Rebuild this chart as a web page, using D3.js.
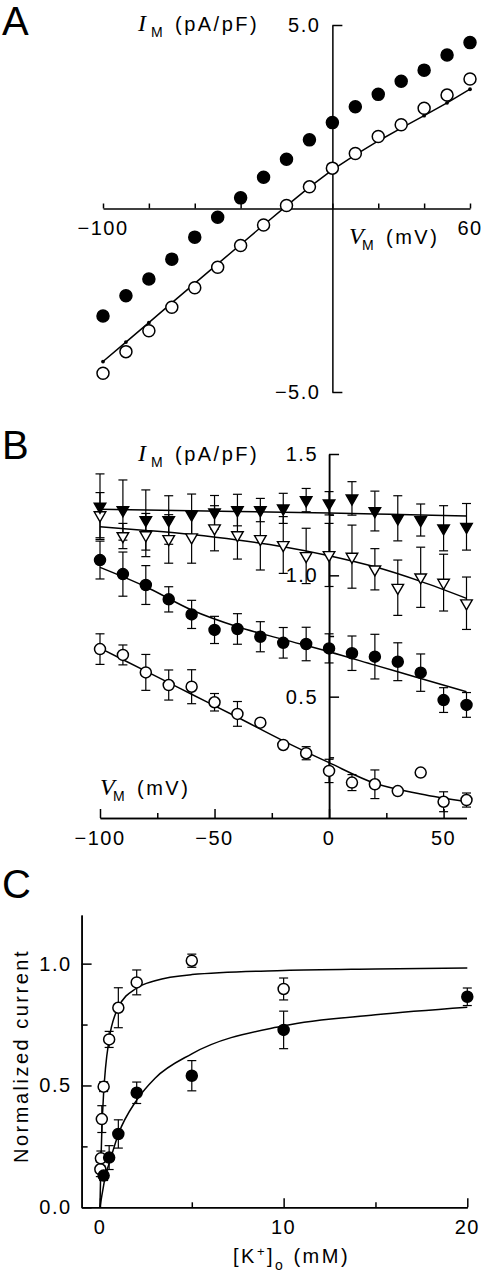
<!DOCTYPE html>
<html>
<head>
<meta charset="utf-8">
<script src="https://cdn.jsdelivr.net/npm/d3@7"></script>
<style>
  html, body { margin: 0; padding: 0; background: #fff; }
  svg { display: block; }
  text { font-family: "Liberation Sans", Arial, sans-serif; fill: #000; }
  .tick-lbl { font-size: 20px; letter-spacing: 1.5px; }
  .ax-lbl { font-size: 20px; letter-spacing: 2.5px; }
  .serif-it { font-family: "Liberation Serif", "Times New Roman", serif; font-style: italic; }
</style>
</head>
<body>
<script>
// ---------------- Panel A data ----------------
const aVolt = [-100,-90,-80,-70,-60,-50,-40,-30,-20,-10,0,10,20,30,40,50,60];
const aFilled = [-2.93,-2.38,-1.92,-1.38,-0.78,-0.24,0.29,0.85,1.34,1.87,2.34,2.77,3.11,3.47,3.77,4.18,4.52];
const aOpen = [-4.49,-3.90,-3.33,-2.69,-2.16,-1.60,-1.01,-0.45,0.08,0.59,1.10,1.50,1.96,2.28,2.73,3.09,3.53];
const aFit = [-4.17,-3.64,-3.11,-2.57,-2.04,-1.51,-0.98,-0.45,0.07,0.58,1.05,1.46,1.84,2.19,2.53,2.88,3.25];
const aXTicks = [-100,-80,-60,-40,-20,0,20,40,60];
const aXLabels = [-100,60];
const aYTicks = [-5,5];

// ---------------- Panel B data ----------------
const bVolt = [-100,-90,-80,-70,-60,-50,-40,-30,-20,-10,0,10,20,30,40,50,60];
const bFilledTri = [1.283,1.269,1.228,1.228,1.251,1.260,1.269,1.269,1.276,1.310,1.297,1.317,1.265,1.235,1.228,1.194,1.200];
const bFilledTriErr = [0.135,0.124,0.124,0.100,0.084,0.069,0.065,0.048,0.062,0.048,0.048,0.069,0.082,0.093,0.066,0.093,0.096];
const bOpenTri = [1.248,1.162,1.166,1.150,1.157,1.194,1.166,1.150,1.125,1.080,1.084,1.077,1.025,0.949,0.992,0.970,0.885];
const bOpenTriErr = [0.093,0.052,0.089,0.100,0.107,0.093,0.099,0.128,0.117,0.114,0.130,0.130,0.085,0.114,0.124,0.117,0.108];
const bFilledCirc = [1.063,1.005,0.960,0.901,0.839,0.775,0.779,0.747,0.722,0.717,0.699,0.679,0.665,0.644,0.599,0.486,0.466];
const bFilledCircErr = [0.078,0.091,0.080,0.052,0.058,0.056,0.063,0.062,0.063,0.069,0.060,0.071,0.092,0.078,0.077,0.051,0.051];
const bOpenCirc = [0.696,0.672,0.600,0.548,0.541,0.477,0.429,0.393,0.301,0.267,0.194,0.146,0.139,0.111,0.187,0.067,0.074];
const bOpenCircErr = [0.063,0.041,0.074,0.062,0.070,0.036,0.051,0,0,0.027,0.048,0.033,0.059,0,0,0.041,0.029];
const bFitVolt = [-100,-80,-60,-40,-20,0,20,40,60];
const bFitFilledTri = [1.272,1.269,1.266,1.263,1.260,1.257,1.253,1.249,1.244];
const bFitOpenTri = [1.200,1.185,1.168,1.146,1.118,1.081,1.035,0.975,0.905];
const bFitFilledCirc = [1.033,0.953,0.857,0.788,0.736,0.685,0.630,0.575,0.520];
const bFitOpenCirc = [0.700,0.605,0.510,0.415,0.318,0.228,0.143,0.099,0.067];
const bXMajor = [-100,-50,0,50];
const bXMinor = [-75,-25,25];
const bYMajor = [0.5,1.0,1.5];
const bYMinor = [0.25,0.75,1.25];

// ---------------- Panel C data ----------------
const cOpenK = [0.02,0.05,0.1,0.2,0.5,1,2,5,10];
const cOpen = [0.156,0.201,0.362,0.495,0.689,0.819,0.923,1.012,0.896];
const cOpenErr = [0.03,0.03,0.055,0.02,0.033,0.082,0.051,0.027,0.045];
const cFilledK = [0.2,0.5,1,2,5,10,20];
const cFilled = [0.130,0.204,0.301,0.470,0.540,0.728,0.864];
const cFilledErr = [0.02,0.049,0.058,0.044,0.062,0.077,0.036];
const cFitK = [0,0.05,0.1,0.2,0.3,0.5,1,2,3,5,10,15,20];
const cFitOpen = [0,0.18,0.31,0.47,0.57,0.69,0.82,0.90,0.93,0.955,0.972,0.978,0.982];
const cFitFilled = [0,0.024,0.047,0.09,0.13,0.18,0.30,0.44,0.53,0.63,0.745,0.79,0.821];
const cXMajor = [0,10,20];
const cXMinor = [5,15];
const cYMajor = [0,0.5,1.0];
const cYMinor = [0.25,0.75];

// ---------------- drawing ----------------
const W = 482, H = 1280;
const svg = d3.select("body").append("svg").attr("width", W).attr("height", H);
svg.append("rect").attr("width", W).attr("height", H).attr("fill", "#fff");

const fmt1 = v => d3.format(".1f")(v).replace("-", "\u2212");
const fmt0 = v => d3.format("d")(v).replace("-", "\u2212");
const LW = 1.5;

function line(g, x1, y1, x2, y2, w) {
  g.append("line").attr("x1", x1).attr("y1", y1).attr("x2", x2).attr("y2", y2)
    .attr("stroke", "#000").attr("stroke-width", w || LW);
}
function errBars(g, xs, ys, es, x, y, cap) {
  xs.forEach((xv, i) => {
    const e = es[i];
    if (!e) return;
    const px = x(xv), y1 = y(ys[i] - e), y2 = y(ys[i] + e);
    line(g, px, y1, px, y2, 1.2);
    line(g, px - cap, y1, px + cap, y1, 1.2);
    line(g, px - cap, y2, px + cap, y2, 1.2);
  });
}
function circles(g, xs, ys, x, y, r, filled) {
  g.selectAll(null).data(xs.map((xv, i) => [xv, ys[i]])).join("circle")
    .attr("cx", d => x(d[0])).attr("cy", d => y(d[1])).attr("r", r)
    .attr("fill", filled ? "#000" : "#fff").attr("stroke", "#000").attr("stroke-width", 1.5);
}
function triangles(g, xs, ys, x, y, size, filled) {
  const sym = d3.symbol().type(d3.symbolTriangle).size(size);
  g.selectAll(null).data(xs.map((xv, i) => [xv, ys[i]])).join("path")
    .attr("d", sym)
    .attr("transform", d => `translate(${x(d[0])},${y(d[1])}) rotate(180)`)
    .attr("fill", filled ? "#000" : "#fff").attr("stroke", "#000").attr("stroke-width", 1.4);
}
function fitLine(g, xs, ys, x, y, curve) {
  const gen = d3.line().x(d => x(d[0])).y(d => y(d[1])).curve(curve || d3.curveMonotoneX);
  g.append("path").attr("d", gen(xs.map((xv, i) => [xv, ys[i]])))
    .attr("fill", "none").attr("stroke", "#000").attr("stroke-width", 1.5);
}
function styleAxis(sel) {
  sel.selectAll("path.domain").attr("stroke", "#000").attr("stroke-width", LW);
  sel.selectAll(".tick line").attr("stroke", "#000").attr("stroke-width", LW);
  sel.selectAll(".tick text").remove();
}
function panelLetter(txt, x, y) {
  svg.append("text").attr("x", x).attr("y", y).attr("font-size", 40).text(txt);
}
function axisTitle(g, letter, x, y, rest) {
  g.append("text").attr("class", "serif-it").attr("x", x).attr("y", y).attr("font-size", 24).text(letter);
  g.append("text").attr("x", x + 13).attr("y", y + 6).attr("font-size", 14).text("M");
  g.append("text").attr("class", "ax-lbl").attr("x", x + 37).attr("y", y).text(rest);
}

// ===== Panel A =====
{
  const g = svg.append("g");
  const x = d3.scaleLinear().domain([-100, 60]).range([103, 470]);
  const y = d3.scaleLinear().domain([-5, 5]).range([392, 25]);
  const gx = g.append("g").attr("transform", `translate(0,${y(0)})`)
    .call(d3.axisTop(x).tickValues(aXTicks).tickSize(5).tickSizeOuter(0).tickFormat(""));
  styleAxis(gx);
  const gy = g.append("g").attr("transform", `translate(${x(0)},0)`)
    .call(d3.axisRight(y).tickValues(aYTicks).tickSize(10).tickSizeOuter(0).tickFormat(""));
  styleAxis(gy);
  aXLabels.forEach(v => g.append("text").attr("class", "tick-lbl").attr("x", x(v)).attr("y", y(0) + 26)
    .attr("text-anchor", "middle").text(fmt0(v)));
  aYTicks.forEach(v => g.append("text").attr("class", "tick-lbl").attr("x", x(0) - 12).attr("y", y(v) + 7)
    .attr("text-anchor", "end").text(fmt1(v)));
  fitLine(g, aVolt, aFit, x, y, d3.curveLinear);
  g.selectAll(null).data(aVolt.map((v, i) => [v, aFit[i]])).join("circle")
    .attr("cx", d => x(d[0])).attr("cy", d => y(d[1])).attr("r", 1.9).attr("fill", "#000");
  circles(g, aVolt, aOpen, x, y, 6, false);
  circles(g, aVolt, aFilled, x, y, 6, true);
  axisTitle(g, "I", 138, 31, "(pA/pF)");
  axisTitle(g, "V", 349, 244, "(mV)");
  panelLetter("A", 2, 35);
}

// ===== Panel B =====
{
  const g = svg.append("g");
  const x = d3.scaleLinear().domain([-100, 60]).range([100, 466.5]);
  const y = d3.scaleLinear().domain([0, 1.5]).range([818, 454]);
  const gx = g.append("g").attr("transform", `translate(0,${y(0)})`)
    .call(d3.axisTop(x).tickValues(bXMajor).tickSize(9).tickSizeOuter(0).tickFormat(""));
  styleAxis(gx);
  const gx2 = g.append("g").attr("transform", `translate(0,${y(0)})`)
    .call(d3.axisTop(x).tickValues(bXMinor).tickSize(5).tickSizeOuter(0).tickFormat(""));
  styleAxis(gx2);
  const gy = g.append("g").attr("transform", `translate(${x(0)},0)`)
    .call(d3.axisRight(y).tickValues(bYMajor).tickSize(10).tickSizeOuter(0).tickFormat(""));
  styleAxis(gy);
  const gy2 = g.append("g").attr("transform", `translate(${x(0)},0)`)
    .call(d3.axisRight(y).tickValues(bYMinor).tickSize(5).tickSizeOuter(0).tickFormat(""));
  styleAxis(gy2);
  bXMajor.forEach(v => g.append("text").attr("class", "tick-lbl").attr("x", x(v)).attr("y", y(0) + 27)
    .attr("text-anchor", "middle").text(fmt0(v)));
  bYMajor.forEach(v => g.append("text").attr("class", "tick-lbl").attr("x", x(0) - 11).attr("y", y(v) + 7)
    .attr("text-anchor", "end").text(fmt1(v)));

  fitLine(g, bFitVolt, bFitFilledTri, x, y);
  fitLine(g, bFitVolt, bFitOpenTri, x, y);
  fitLine(g, bFitVolt, bFitFilledCirc, x, y);
  fitLine(g, bFitVolt, bFitOpenCirc, x, y);

  errBars(g, bVolt, bFilledTri, bFilledTriErr, x, y, 4.5);
  errBars(g, bVolt, bOpenTri, bOpenTriErr, x, y, 4.5);
  errBars(g, bVolt, bFilledCirc, bFilledCircErr, x, y, 4.5);
  errBars(g, bVolt, bOpenCirc, bOpenCircErr, x, y, 4.5);

  triangles(g, bVolt, bOpenTri, x, y, 58, false);
  triangles(g, bVolt, bFilledTri, x, y, 58, true);
  circles(g, bVolt, bFilledCirc, x, y, 5.5, true);
  circles(g, bVolt, bOpenCirc, x, y, 5.5, false);

  axisTitle(g, "I", 138, 461, "(pA/pF)");
  axisTitle(g, "V", 100, 795, "(mV)");
  panelLetter("B", 2, 459);
}

// ===== Panel C =====
{
  const g = svg.append("g");
  const x = d3.scaleLinear().domain([-1, 20]).range([81.6, 467.3]);
  const y = d3.scaleLinear().domain([0, 1.2]).range([1207.3, 914.9]);
  const gx = g.append("g").attr("transform", `translate(0,${y(0)})`)
    .call(d3.axisTop(x).tickValues(cXMajor).tickSize(9).tickSizeOuter(0).tickFormat(""));
  styleAxis(gx);
  const gx2 = g.append("g").attr("transform", `translate(0,${y(0)})`)
    .call(d3.axisTop(x).tickValues(cXMinor).tickSize(5).tickSizeOuter(0).tickFormat(""));
  styleAxis(gx2);
  const gy = g.append("g").attr("transform", `translate(${x(-1)},0)`)
    .call(d3.axisRight(y).tickValues(cYMajor).tickSize(10).tickSizeOuter(0).tickFormat(""));
  styleAxis(gy);
  const gy2 = g.append("g").attr("transform", `translate(${x(-1)},0)`)
    .call(d3.axisRight(y).tickValues(cYMinor).tickSize(6).tickSizeOuter(0).tickFormat(""));
  styleAxis(gy2);
  cXMajor.forEach(v => g.append("text").attr("class", "tick-lbl").attr("x", x(v)).attr("y", y(0) + 27)
    .attr("text-anchor", "middle").text(fmt0(v)));
  cYMajor.forEach(v => g.append("text").attr("class", "tick-lbl").attr("x", x(-1) - 10).attr("y", y(v) + 7)
    .attr("text-anchor", "end").text(fmt1(v)));

  fitLine(g, cFitK, cFitOpen, x, y);
  fitLine(g, cFitK, cFitFilled, x, y);
  errBars(g, cOpenK, cOpen, cOpenErr, x, y, 4.5);
  errBars(g, cFilledK, cFilled, cFilledErr, x, y, 4.5);
  circles(g, cOpenK, cOpen, x, y, 5.5, false);
  circles(g, cFilledK, cFilled, x, y, 5.5, true);

  g.append("text").attr("class", "ax-lbl")
    .attr("transform", "translate(28,1056) rotate(-90)").attr("text-anchor", "middle")
    .text("Normalized current");
  const t = g.append("text").attr("class", "ax-lbl").attr("x", 233).attr("y", 1263);
  t.append("tspan").text("[K");
  t.append("tspan").attr("dy", -7).attr("font-size", 13).text("+");
  t.append("tspan").attr("dy", 7).text("]");
  t.append("tspan").attr("dy", 7).attr("font-size", 14).text("o");
  t.append("tspan").attr("dy", -7).text(" (mM)");
  panelLetter("C", 2, 898);
}
</script>
</body>
</html>
